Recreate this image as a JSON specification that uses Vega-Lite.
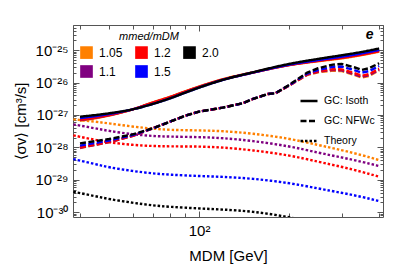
{
 "$schema": "https://vega.github.io/schema/vega-lite/v6.json",
 "width": 310, "height": 192,
 "autosize": {"type": "none"},
 "padding": {"left": 73, "top": 25, "right": 11, "bottom": 56},
 "background": "white",
 "config": {"font": "Liberation Sans", "view": {"stroke": "#555", "strokeWidth": 1},
  "axis": {"grid": false, "domain": false, "tickColor": "#555", "labelColor": "black", "titleColor": "black", "titleFontWeight": "normal", "labelOverlap": false, "labelFont": "Liberation Sans", "titleFont": "Liberation Sans"},
  "legend": {"labelFont": "Liberation Sans", "titleFont": "Liberation Sans", "labelColor": "black", "titleColor": "black"}},
 "datasets": {
  "iso": [
   {"m":40,"v":6.65e-28,"r":"1.05","s":"GC: Isoth"},{"m":50,"v":9.6e-28,"r":"1.05","s":"GC: Isoth"},{"m":60,"v":1.5e-27,"r":"1.05","s":"GC: Isoth"},{"m":70,"v":2.45e-27,"r":"1.05","s":"GC: Isoth"},{"m":80,"v":3.66e-27,"r":"1.05","s":"GC: Isoth"},{"m":90,"v":5.4e-27,"r":"1.05","s":"GC: Isoth"},{"m":100,"v":7.56e-27,"r":"1.05","s":"GC: Isoth"},{"m":120,"v":1.27e-26,"r":"1.05","s":"GC: Isoth"},{"m":150,"v":2.04e-26,"r":"1.05","s":"GC: Isoth"},{"m":200,"v":3.47e-26,"r":"1.05","s":"GC: Isoth"},{"m":250,"v":4.58e-26,"r":"1.05","s":"GC: Isoth"},{"m":300,"v":5.6e-26,"r":"1.05","s":"GC: Isoth"},{"m":350,"v":7.1e-26,"r":"1.05","s":"GC: Isoth"},{"m":400,"v":9.04e-26,"r":"1.05","s":"GC: Isoth"},
   {"m":40,"v":6.92e-28,"r":"1.1","s":"GC: Isoth"},{"m":50,"v":9.83e-28,"r":"1.1","s":"GC: Isoth"},{"m":60,"v":1.5e-27,"r":"1.1","s":"GC: Isoth"},{"m":70,"v":2.37e-27,"r":"1.1","s":"GC: Isoth"},{"m":80,"v":3.53e-27,"r":"1.1","s":"GC: Isoth"},{"m":90,"v":5.2e-27,"r":"1.1","s":"GC: Isoth"},{"m":100,"v":7.35e-27,"r":"1.1","s":"GC: Isoth"},{"m":120,"v":1.23e-26,"r":"1.1","s":"GC: Isoth"},{"m":150,"v":2.0e-26,"r":"1.1","s":"GC: Isoth"},{"m":200,"v":3.51e-26,"r":"1.1","s":"GC: Isoth"},{"m":250,"v":4.74e-26,"r":"1.1","s":"GC: Isoth"},{"m":300,"v":5.95e-26,"r":"1.1","s":"GC: Isoth"},{"m":350,"v":7.54e-26,"r":"1.1","s":"GC: Isoth"},{"m":400,"v":9.6e-26,"r":"1.1","s":"GC: Isoth"},
   {"m":40,"v":7.1e-28,"r":"1.2","s":"GC: Isoth"},{"m":50,"v":9.94e-28,"r":"1.2","s":"GC: Isoth"},{"m":60,"v":1.5e-27,"r":"1.2","s":"GC: Isoth"},{"m":70,"v":2.41e-27,"r":"1.2","s":"GC: Isoth"},{"m":80,"v":3.6e-27,"r":"1.2","s":"GC: Isoth"},{"m":90,"v":5.3e-27,"r":"1.2","s":"GC: Isoth"},{"m":100,"v":7.42e-27,"r":"1.2","s":"GC: Isoth"},{"m":120,"v":1.25e-26,"r":"1.2","s":"GC: Isoth"},{"m":150,"v":2.0e-26,"r":"1.2","s":"GC: Isoth"},{"m":200,"v":3.47e-26,"r":"1.2","s":"GC: Isoth"},{"m":250,"v":4.69e-26,"r":"1.2","s":"GC: Isoth"},{"m":300,"v":5.81e-26,"r":"1.2","s":"GC: Isoth"},{"m":350,"v":7.27e-26,"r":"1.2","s":"GC: Isoth"},{"m":400,"v":9.27e-26,"r":"1.2","s":"GC: Isoth"},
   {"m":40,"v":7.98e-28,"r":"1.5","s":"GC: Isoth"},{"m":50,"v":1.07e-27,"r":"1.5","s":"GC: Isoth"},{"m":60,"v":1.5e-27,"r":"1.5","s":"GC: Isoth"},{"m":70,"v":2.19e-27,"r":"1.5","s":"GC: Isoth"},{"m":80,"v":3.27e-27,"r":"1.5","s":"GC: Isoth"},{"m":90,"v":4.91e-27,"r":"1.5","s":"GC: Isoth"},{"m":100,"v":7.0e-27,"r":"1.5","s":"GC: Isoth"},{"m":120,"v":1.21e-26,"r":"1.5","s":"GC: Isoth"},{"m":150,"v":2.0e-26,"r":"1.5","s":"GC: Isoth"},{"m":200,"v":3.58e-26,"r":"1.5","s":"GC: Isoth"},{"m":250,"v":4.96e-26,"r":"1.5","s":"GC: Isoth"},{"m":300,"v":6.3e-26,"r":"1.5","s":"GC: Isoth"},{"m":350,"v":7.98e-26,"r":"1.5","s":"GC: Isoth"},{"m":400,"v":1.02e-25,"r":"1.5","s":"GC: Isoth"},
   {"m":40,"v":8.87e-28,"r":"2.0","s":"GC: Isoth"},{"m":50,"v":1.13e-27,"r":"2.0","s":"GC: Isoth"},{"m":60,"v":1.5e-27,"r":"2.0","s":"GC: Isoth"},{"m":70,"v":2.19e-27,"r":"2.0","s":"GC: Isoth"},{"m":80,"v":3.27e-27,"r":"2.0","s":"GC: Isoth"},{"m":90,"v":4.91e-27,"r":"2.0","s":"GC: Isoth"},{"m":100,"v":7.0e-27,"r":"2.0","s":"GC: Isoth"},{"m":120,"v":1.21e-26,"r":"2.0","s":"GC: Isoth"},{"m":150,"v":2.04e-26,"r":"2.0","s":"GC: Isoth"},{"m":200,"v":3.77e-26,"r":"2.0","s":"GC: Isoth"},{"m":250,"v":5.39e-26,"r":"2.0","s":"GC: Isoth"},{"m":300,"v":7.0e-26,"r":"2.0","s":"GC: Isoth"},{"m":350,"v":8.87e-26,"r":"2.0","s":"GC: Isoth"},{"m":400,"v":1.13e-25,"r":"2.0","s":"GC: Isoth"}
  ],
  "nfw": [
   {"m":40,"v":9.6e-29,"r":"1.05","s":"GC: NFWc"},{"m":50,"v":1.45e-28,"r":"1.05","s":"GC: NFWc"},{"m":60,"v":2.27e-28,"r":"1.05","s":"GC: NFWc"},{"m":70,"v":3.87e-28,"r":"1.05","s":"GC: NFWc"},{"m":80,"v":6.22e-28,"r":"1.05","s":"GC: NFWc"},{"m":90,"v":9.53e-28,"r":"1.05","s":"GC: NFWc"},{"m":100,"v":1.27e-27,"r":"1.05","s":"GC: NFWc"},{"m":120,"v":1.69e-27,"r":"1.05","s":"GC: NFWc"},{"m":140,"v":2.3e-27,"r":"1.05","s":"GC: NFWc"},{"m":150,"v":3.05e-27,"r":"1.05","s":"GC: NFWc"},{"m":170,"v":4.46e-27,"r":"1.05","s":"GC: NFWc"},{"m":180,"v":4.68e-27,"r":"1.05","s":"GC: NFWc"},{"m":200,"v":8.05e-27,"r":"1.05","s":"GC: NFWc"},{"m":230,"v":1.73e-26,"r":"1.05","s":"GC: NFWc"},{"m":250,"v":2.08e-26,"r":"1.05","s":"GC: NFWc"},{"m":280,"v":2.34e-26,"r":"1.05","s":"GC: NFWc"},{"m":300,"v":2.26e-26,"r":"1.05","s":"GC: NFWc"},{"m":330,"v":1.73e-26,"r":"1.05","s":"GC: NFWc"},{"m":350,"v":1.43e-26,"r":"1.05","s":"GC: NFWc"},{"m":370,"v":1.61e-26,"r":"1.05","s":"GC: NFWc"},{"m":400,"v":2.38e-26,"r":"1.05","s":"GC: NFWc"},
   {"m":40,"v":9.7e-29,"r":"1.1","s":"GC: NFWc"},{"m":50,"v":1.45e-28,"r":"1.1","s":"GC: NFWc"},{"m":60,"v":2.27e-28,"r":"1.1","s":"GC: NFWc"},{"m":70,"v":3.87e-28,"r":"1.1","s":"GC: NFWc"},{"m":80,"v":6.22e-28,"r":"1.1","s":"GC: NFWc"},{"m":90,"v":9.53e-28,"r":"1.1","s":"GC: NFWc"},{"m":100,"v":1.27e-27,"r":"1.1","s":"GC: NFWc"},{"m":120,"v":1.69e-27,"r":"1.1","s":"GC: NFWc"},{"m":140,"v":2.3e-27,"r":"1.1","s":"GC: NFWc"},{"m":150,"v":3.05e-27,"r":"1.1","s":"GC: NFWc"},{"m":170,"v":4.46e-27,"r":"1.1","s":"GC: NFWc"},{"m":180,"v":4.68e-27,"r":"1.1","s":"GC: NFWc"},{"m":200,"v":8.13e-27,"r":"1.1","s":"GC: NFWc"},{"m":230,"v":1.77e-26,"r":"1.1","s":"GC: NFWc"},{"m":250,"v":2.16e-26,"r":"1.1","s":"GC: NFWc"},{"m":280,"v":2.45e-26,"r":"1.1","s":"GC: NFWc"},{"m":300,"v":2.38e-26,"r":"1.1","s":"GC: NFWc"},{"m":330,"v":1.82e-26,"r":"1.1","s":"GC: NFWc"},{"m":350,"v":1.51e-26,"r":"1.1","s":"GC: NFWc"},{"m":370,"v":1.69e-26,"r":"1.1","s":"GC: NFWc"},{"m":400,"v":2.49e-26,"r":"1.1","s":"GC: NFWc"},
   {"m":40,"v":1.0e-28,"r":"1.2","s":"GC: NFWc"},{"m":50,"v":1.48e-28,"r":"1.2","s":"GC: NFWc"},{"m":60,"v":2.27e-28,"r":"1.2","s":"GC: NFWc"},{"m":70,"v":3.87e-28,"r":"1.2","s":"GC: NFWc"},{"m":80,"v":6.22e-28,"r":"1.2","s":"GC: NFWc"},{"m":90,"v":9.53e-28,"r":"1.2","s":"GC: NFWc"},{"m":100,"v":1.27e-27,"r":"1.2","s":"GC: NFWc"},{"m":120,"v":1.69e-27,"r":"1.2","s":"GC: NFWc"},{"m":140,"v":2.3e-27,"r":"1.2","s":"GC: NFWc"},{"m":150,"v":3.05e-27,"r":"1.2","s":"GC: NFWc"},{"m":170,"v":4.46e-27,"r":"1.2","s":"GC: NFWc"},{"m":180,"v":4.68e-27,"r":"1.2","s":"GC: NFWc"},{"m":200,"v":8.13e-27,"r":"1.2","s":"GC: NFWc"},{"m":230,"v":1.8e-26,"r":"1.2","s":"GC: NFWc"},{"m":250,"v":2.22e-26,"r":"1.2","s":"GC: NFWc"},{"m":280,"v":2.59e-26,"r":"1.2","s":"GC: NFWc"},{"m":300,"v":2.56e-26,"r":"1.2","s":"GC: NFWc"},{"m":330,"v":1.97e-26,"r":"1.2","s":"GC: NFWc"},{"m":350,"v":1.63e-26,"r":"1.2","s":"GC: NFWc"},{"m":370,"v":1.83e-26,"r":"1.2","s":"GC: NFWc"},{"m":400,"v":2.69e-26,"r":"1.2","s":"GC: NFWc"},
   {"m":40,"v":1.13e-28,"r":"1.5","s":"GC: NFWc"},{"m":50,"v":1.63e-28,"r":"1.5","s":"GC: NFWc"},{"m":60,"v":2.39e-28,"r":"1.5","s":"GC: NFWc"},{"m":70,"v":3.87e-28,"r":"1.5","s":"GC: NFWc"},{"m":80,"v":6.22e-28,"r":"1.5","s":"GC: NFWc"},{"m":90,"v":9.53e-28,"r":"1.5","s":"GC: NFWc"},{"m":100,"v":1.27e-27,"r":"1.5","s":"GC: NFWc"},{"m":120,"v":1.69e-27,"r":"1.5","s":"GC: NFWc"},{"m":140,"v":2.3e-27,"r":"1.5","s":"GC: NFWc"},{"m":150,"v":3.05e-27,"r":"1.5","s":"GC: NFWc"},{"m":170,"v":4.46e-27,"r":"1.5","s":"GC: NFWc"},{"m":180,"v":4.68e-27,"r":"1.5","s":"GC: NFWc"},{"m":200,"v":8.3e-27,"r":"1.5","s":"GC: NFWc"},{"m":230,"v":1.9e-26,"r":"1.5","s":"GC: NFWc"},{"m":250,"v":2.44e-26,"r":"1.5","s":"GC: NFWc"},{"m":280,"v":3.06e-26,"r":"1.5","s":"GC: NFWc"},{"m":300,"v":3.13e-26,"r":"1.5","s":"GC: NFWc"},{"m":330,"v":2.44e-26,"r":"1.5","s":"GC: NFWc"},{"m":350,"v":2.03e-26,"r":"1.5","s":"GC: NFWc"},{"m":370,"v":2.27e-26,"r":"1.5","s":"GC: NFWc"},{"m":400,"v":3.25e-26,"r":"1.5","s":"GC: NFWc"},
   {"m":40,"v":1.33e-28,"r":"2.0","s":"GC: NFWc"},{"m":50,"v":1.81e-28,"r":"2.0","s":"GC: NFWc"},{"m":60,"v":2.52e-28,"r":"2.0","s":"GC: NFWc"},{"m":70,"v":3.87e-28,"r":"2.0","s":"GC: NFWc"},{"m":80,"v":6.22e-28,"r":"2.0","s":"GC: NFWc"},{"m":90,"v":9.53e-28,"r":"2.0","s":"GC: NFWc"},{"m":100,"v":1.27e-27,"r":"2.0","s":"GC: NFWc"},{"m":120,"v":1.69e-27,"r":"2.0","s":"GC: NFWc"},{"m":140,"v":2.3e-27,"r":"2.0","s":"GC: NFWc"},{"m":150,"v":3.05e-27,"r":"2.0","s":"GC: NFWc"},{"m":170,"v":4.46e-27,"r":"2.0","s":"GC: NFWc"},{"m":180,"v":4.68e-27,"r":"2.0","s":"GC: NFWc"},{"m":200,"v":8.47e-27,"r":"2.0","s":"GC: NFWc"},{"m":230,"v":2.04e-26,"r":"2.0","s":"GC: NFWc"},{"m":250,"v":2.77e-26,"r":"2.0","s":"GC: NFWc"},{"m":280,"v":3.6e-26,"r":"2.0","s":"GC: NFWc"},{"m":300,"v":3.77e-26,"r":"2.0","s":"GC: NFWc"},{"m":330,"v":2.98e-26,"r":"2.0","s":"GC: NFWc"},{"m":350,"v":2.47e-26,"r":"2.0","s":"GC: NFWc"},{"m":370,"v":2.77e-26,"r":"2.0","s":"GC: NFWc"},{"m":400,"v":3.96e-26,"r":"2.0","s":"GC: NFWc"}
  ],
  "th": [
   {"m":38,"v":7.34e-28,"r":"1.05","s":"Theory"},{"m":45,"v":6.22e-28,"r":"1.05","s":"Theory"},{"m":50,"v":5.52e-28,"r":"1.05","s":"Theory"},{"m":60,"v":4.36e-28,"r":"1.05","s":"Theory"},{"m":70,"v":3.78e-28,"r":"1.05","s":"Theory"},{"m":80,"v":3.43e-28,"r":"1.05","s":"Theory"},{"m":100,"v":3.36e-28,"r":"1.05","s":"Theory"},{"m":120,"v":3.2e-28,"r":"1.05","s":"Theory"},{"m":150,"v":2.71e-28,"r":"1.05","s":"Theory"},{"m":200,"v":1.9e-28,"r":"1.05","s":"Theory"},{"m":250,"v":1.18e-28,"r":"1.05","s":"Theory"},{"m":300,"v":8.27e-29,"r":"1.05","s":"Theory"},{"m":350,"v":5.79e-29,"r":"1.05","s":"Theory"},{"m":400,"v":4.06e-29,"r":"1.05","s":"Theory"},
   {"m":38,"v":5.14e-28,"r":"1.1","s":"Theory"},{"m":45,"v":3.87e-28,"r":"1.1","s":"Theory"},{"m":50,"v":3.2e-28,"r":"1.1","s":"Theory"},{"m":60,"v":2.52e-28,"r":"1.1","s":"Theory"},{"m":70,"v":2.24e-28,"r":"1.1","s":"Theory"},{"m":80,"v":2.14e-28,"r":"1.1","s":"Theory"},{"m":100,"v":2.09e-28,"r":"1.1","s":"Theory"},{"m":120,"v":1.95e-28,"r":"1.1","s":"Theory"},{"m":150,"v":1.61e-28,"r":"1.1","s":"Theory"},{"m":200,"v":1.1e-28,"r":"1.1","s":"Theory"},{"m":250,"v":6.84e-29,"r":"1.1","s":"Theory"},{"m":300,"v":4.91e-29,"r":"1.1","s":"Theory"},{"m":350,"v":3.6e-29,"r":"1.1","s":"Theory"},{"m":400,"v":2.65e-29,"r":"1.1","s":"Theory"},
   {"m":38,"v":2.35e-28,"r":"1.2","s":"Theory"},{"m":45,"v":1.69e-28,"r":"1.2","s":"Theory"},{"m":50,"v":1.43e-28,"r":"1.2","s":"Theory"},{"m":60,"v":1.18e-28,"r":"1.2","s":"Theory"},{"m":70,"v":1.1e-28,"r":"1.2","s":"Theory"},{"m":80,"v":1.07e-28,"r":"1.2","s":"Theory"},{"m":100,"v":1.07e-28,"r":"1.2","s":"Theory"},{"m":120,"v":1.0e-28,"r":"1.2","s":"Theory"},{"m":150,"v":8.27e-29,"r":"1.2","s":"Theory"},{"m":200,"v":5.79e-29,"r":"1.2","s":"Theory"},{"m":250,"v":3.6e-29,"r":"1.2","s":"Theory"},{"m":300,"v":2.52e-29,"r":"1.2","s":"Theory"},{"m":350,"v":1.77e-29,"r":"1.2","s":"Theory"},{"m":400,"v":1.24e-29,"r":"1.2","s":"Theory"},
   {"m":38,"v":4.36e-29,"r":"1.5","s":"Theory"},{"m":45,"v":3.05e-29,"r":"1.5","s":"Theory"},{"m":50,"v":2.41e-29,"r":"1.5","s":"Theory"},{"m":60,"v":1.85e-29,"r":"1.5","s":"Theory"},{"m":70,"v":1.57e-29,"r":"1.5","s":"Theory"},{"m":80,"v":1.43e-29,"r":"1.5","s":"Theory"},{"m":100,"v":1.3e-29,"r":"1.5","s":"Theory"},{"m":120,"v":1.24e-29,"r":"1.5","s":"Theory"},{"m":150,"v":1.1e-29,"r":"1.5","s":"Theory"},{"m":200,"v":8.07e-30,"r":"1.5","s":"Theory"},{"m":250,"v":5.39e-30,"r":"1.5","s":"Theory"},{"m":300,"v":3.96e-30,"r":"1.5","s":"Theory"},{"m":350,"v":2.98e-30,"r":"1.5","s":"Theory"},{"m":400,"v":2.19e-30,"r":"1.5","s":"Theory"},
   {"m":38,"v":4.26e-30,"r":"2.0","s":"Theory"},{"m":45,"v":3.13e-30,"r":"2.0","s":"Theory"},{"m":50,"v":2.52e-30,"r":"2.0","s":"Theory"},{"m":60,"v":1.95e-30,"r":"2.0","s":"Theory"},{"m":70,"v":1.61e-30,"r":"2.0","s":"Theory"},{"m":80,"v":1.46e-30,"r":"2.0","s":"Theory"},{"m":100,"v":1.3e-30,"r":"2.0","s":"Theory"},{"m":120,"v":1.21e-30,"r":"2.0","s":"Theory"},{"m":150,"v":1.07e-30,"r":"2.0","s":"Theory"},{"m":200,"v":7.18e-31,"r":"2.0","s":"Theory"},{"m":250,"v":4.46e-31,"r":"2.0","s":"Theory"},{"m":300,"v":3.13e-31,"r":"2.0","s":"Theory"},{"m":350,"v":2.3e-31,"r":"2.0","s":"Theory"},{"m":400,"v":1.73e-31,"r":"2.0","s":"Theory"}
  ],
  "lab": [{"m":372,"v":2.9e-25,"t":"e"}]
 },
 "encoding": {
  "x": {"field": "m", "type": "quantitative", "scale": {"type": "log", "domain": [37.9, 412], "nice": false},
   "axis": null},
  "y": {"field": "v", "type": "quantitative", "scale": {"type": "log", "domain": [7.1e-31, 6.0e-25], "nice": false},
   "axis": null}
 },
 "layer": [
  {"data": {"name": "th"},
   "mark": {"type": "line", "strokeWidth": 2.4, "clip": true, "interpolate": "basis", "strokeCap": "butt"},
   "encoding": {
    "x": {"field": "m", "type": "quantitative",
     "axis": {"orient": "bottom", "values": [40,50,60,70,80,90,100,200,300,400], "labelExpr": "datum.value == 100 ? '10²' : ''",
      "tickSize": {"condition": {"test": "datum.value == 100", "value": -6}, "value": -4},
      "labelPadding": 12, "labelFontSize": 15, "title": "MDM [GeV]", "titleFontSize": 15, "titlePadding": 8}},
    "y": {"field": "v", "type": "quantitative",
     "axis": {"orient": "left", "values": [8e-31,9e-31,1e-30,2e-30,3e-30,4e-30,5e-30,6e-30,7e-30,8e-30,9e-30,1e-29,2e-29,3e-29,4e-29,5e-29,6e-29,7e-29,8e-29,9e-29,1e-28,2e-28,3e-28,4e-28,5e-28,6e-28,7e-28,8e-28,9e-28,1e-27,2e-27,3e-27,4e-27,5e-27,6e-27,7e-27,8e-27,9e-27,1e-26,2e-26,3e-26,4e-26,5e-26,6e-26,7e-26,8e-26,9e-26,1e-25,2e-25,3e-25,4e-25,5e-25,6e-25],
      "labelExpr": "abs(log(datum.value)/LN10+25)<0.01 ? '10⁻²⁵' : abs(log(datum.value)/LN10+26)<0.01 ? '10⁻²⁶' : abs(log(datum.value)/LN10+27)<0.01 ? '10⁻²⁷' : abs(log(datum.value)/LN10+28)<0.01 ? '10⁻²⁸' : abs(log(datum.value)/LN10+29)<0.01 ? '10⁻²⁹' : abs(log(datum.value)/LN10+30)<0.01 ? '10⁻³⁰' : ''",
      "tickSize": {"condition": {"test": "abs(log(datum.value)/LN10 - round(log(datum.value)/LN10)) < 0.01", "value": -6}, "value": -3},
      "labelPadding": 11, "labelFontSize": 15, "title": "⟨σv⟩ [cm³/s]", "titleFontSize": 15, "titlePadding": 6}},
    "color": {"field": "r", "type": "nominal",
     "scale": {"domain": ["1.05","1.1","1.2","1.5","2.0"], "range": ["#FF8000","#800080","#FF0000","#0000FF","#000000"]},
     "legend": {"orient": "none", "legendX": 7, "legendY": 6, "title": "mmed/mDM", "titleFontStyle": "italic", "titleFontSize": 11, "titleFontWeight": "normal", "titleAnchor": "middle", "columns": 3, "symbolType": "square", "symbolSize": 160, "symbolStrokeWidth": 0, "labelFontSize": 12, "labelOffset": 6, "columnPadding": 12, "rowPadding": 6, "titlePadding": 4,
      "encode": {"symbols": {"update": {"fill": {"scale": "color", "field": "value"}, "fillOpacity": {"value": 1}, "strokeDash": {"value": [1, 0]}}}}}},
    "strokeDash": {"field": "s", "type": "nominal",
     "scale": {"domain": ["GC: Isoth","GC: NFWc","Theory"], "range": [[1,0],[6,2.5],[2.5,2]]},
     "legend": {"orient": "none", "legendX": 226, "legendY": 66, "title": null, "symbolType": "stroke", "symbolSize": 289, "symbolStrokeColor": "black", "symbolStrokeWidth": 2.5, "labelFontSize": 10.5, "labelOffset": 5, "rowPadding": 4}}
   }},
  {"data": {"name": "nfw"},
   "mark": {"type": "line", "strokeWidth": 2.4, "clip": true, "strokeCap": "butt"},
   "encoding": {
    "x": {"field": "m", "type": "quantitative", "axis": null},
    "y": {"field": "v", "type": "quantitative", "axis": null},
    "color": {"field": "r", "type": "nominal"},
    "strokeDash": {"field": "s", "type": "nominal"}
   }},
  {"data": {"name": "iso"},
   "mark": {"type": "line", "strokeWidth": 2.4, "clip": true, "interpolate": "monotone"},
   "encoding": {
    "x": {"field": "m", "type": "quantitative", "axis": null},
    "y": {"field": "v", "type": "quantitative", "axis": null},
    "color": {"field": "r", "type": "nominal"},
    "strokeDash": {"field": "s", "type": "nominal"}
   }},
  {"data": {"name": "lab"},
   "mark": {"type": "text", "fontWeight": "bold", "fontStyle": "italic", "fontSize": 14, "font": "Liberation Sans", "align": "center", "baseline": "middle", "color": "black"},
   "encoding": {
    "x": {"field": "m", "type": "quantitative",
     "axis": {"orient": "top", "values": [40,50,60,70,80,90,100,200,300,400], "labels": false, "title": null,
      "tickSize": {"condition": {"test": "datum.value == 100", "value": -6}, "value": -4}}},
    "y": {"field": "v", "type": "quantitative",
     "axis": {"orient": "right", "values": [8e-31,9e-31,1e-30,2e-30,3e-30,4e-30,5e-30,6e-30,7e-30,8e-30,9e-30,1e-29,2e-29,3e-29,4e-29,5e-29,6e-29,7e-29,8e-29,9e-29,1e-28,2e-28,3e-28,4e-28,5e-28,6e-28,7e-28,8e-28,9e-28,1e-27,2e-27,3e-27,4e-27,5e-27,6e-27,7e-27,8e-27,9e-27,1e-26,2e-26,3e-26,4e-26,5e-26,6e-26,7e-26,8e-26,9e-26,1e-25,2e-25,3e-25,4e-25,5e-25,6e-25], "labels": false, "title": null,
      "tickSize": {"condition": {"test": "abs(log(datum.value)/LN10 - round(log(datum.value)/LN10)) < 0.01", "value": -6}, "value": -3}}},
    "text": {"field": "t"}
   }}
 ],
 "resolve": {"axis": {"x": "independent", "y": "independent"}}
}
